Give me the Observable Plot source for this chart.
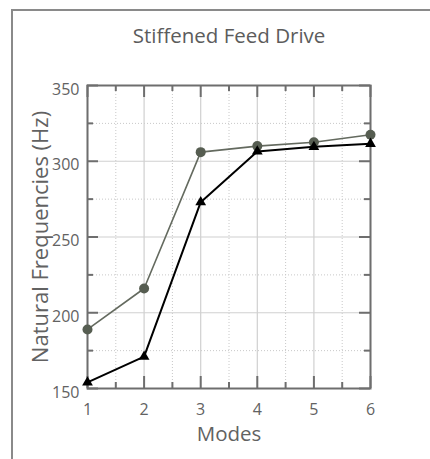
<!DOCTYPE html>
<html>
<head>
<meta charset="utf-8">
<script src="https://cdn.jsdelivr.net/npm/d3@7"></script>
<script src="https://cdn.jsdelivr.net/npm/@observablehq/plot@0.6"></script>
<style>
  html, body { margin: 0; padding: 0; background: #fff; }
  #wrap { position: relative; width: 430px; height: 459px; overflow: hidden; }
  #border { position: absolute; left: 11px; top: 9px; width: 500px; height: 500px;
            border-left: 2px solid #8a8a8a; border-top: 2px solid #8a8a8a; box-sizing: border-box; }
  #chart { position: absolute; left: 0; top: 0; }
</style>
</head>
<body>
<div id="wrap"><div id="border"></div><div id="chart"></div></div>
<script>
const modes = [1, 2, 3, 4, 5, 6];
const stiffCircle = [189, 216, 306, 310, 312.5, 317.5];
const stiffTriangle = [154, 171, 273, 306.5, 309.5, 311.5];
const xMajor = [1, 2, 3, 4, 5, 6];
const xMinor = [1.5, 2.5, 3.5, 4.5, 5.5];
const yMajor = [150, 200, 250, 300, 350];
const yMinor = [175, 225, 275, 325];
const titleText = "Stiffened Feed Drive";
const xLabel = "Modes";
const yLabel = "Natural Frequencies (Hz)";

const seriesA = modes.map((m, i) => ({mode: m, value: stiffCircle[i]}));
const seriesB = modes.map((m, i) => ({mode: m, value: stiffTriangle[i]}));

const font = "'Open Sans', 'Liberation Sans', sans-serif";
const textColor = "#626262";
const frameColor = "#6e6e6e";

// inward tick marks drawn as short rules anchored to the frame edges
const edgeTicksX = (ticks, len, anchor) =>
  Plot.tickX(ticks, {x: d => d, stroke: frameColor, strokeWidth: 2,
    insetTop: anchor === "bottom" ? 302 - len : 0,
    insetBottom: anchor === "top" ? 302 - len : 0});
const edgeTicksY = (ticks, len, anchor) =>
  Plot.tickY(ticks, {y: d => d, stroke: frameColor, strokeWidth: 2,
    insetRight: anchor === "left" ? 283 - len : 0,
    insetLeft: anchor === "right" ? 283 - len : 0});

const chart = Plot.plot({
  width: 430,
  height: 459,
  marginLeft: 87,
  marginRight: 60,
  marginTop: 85,
  marginBottom: 71,
  style: {fontFamily: font, background: "transparent", overflow: "visible"},
  x: {domain: [1, 6]},
  y: {domain: [150, 350]},
  marks: [
    Plot.gridX(xMinor, {stroke: "#c8c8c8", strokeOpacity: 1, strokeDasharray: "1,2"}),
    Plot.gridY(yMinor, {stroke: "#c8c8c8", strokeOpacity: 1, strokeDasharray: "1,2"}),
    Plot.gridX(xMajor, {stroke: "#d0d0d0", strokeOpacity: 1, strokeWidth: 1.2}),
    Plot.gridY(yMajor, {stroke: "#d0d0d0", strokeOpacity: 1, strokeWidth: 1.2}),
    edgeTicksX(xMajor, 11, "bottom"),
    edgeTicksX(xMinor, 5, "bottom"),
    edgeTicksX(xMajor, 11, "top"),
    edgeTicksX(xMinor, 5, "top"),
    edgeTicksY(yMajor, 11, "left"),
    edgeTicksY(yMinor, 6, "left"),
    edgeTicksY(yMajor, 11, "right"),
    edgeTicksY(yMinor, 6, "right"),
    // tick labels
    Plot.axisX({anchor: "bottom", ticks: xMajor, tickSize: 0, tickPadding: 15, fontSize: 16, fill: textColor, label: null, tickFormat: d => String(d)}),
    Plot.axisY({anchor: "left", ticks: yMajor, tickSize: 0, tickPadding: 8, fontSize: 16, fill: textColor, label: null, dy: 4, tickFormat: d => String(d)}),
    Plot.frame({stroke: frameColor, strokeWidth: 2}),
    // series
    Plot.line(seriesA, {x: "mode", y: "value", stroke: "#646a5f", strokeWidth: 1.6}),
    Plot.line(seriesB, {x: "mode", y: "value", stroke: "#000", strokeWidth: 2}),
    Plot.dot(seriesA, {x: "mode", y: "value", r: 5, fill: "#565d51", stroke: "none", symbol: "circle"}),
    Plot.dot(seriesB, {x: "mode", y: "value", r: 4, fill: "#000", stroke: "none", symbol: "triangle"}),
    // title and axis labels
    Plot.text([titleText], {frameAnchor: "top", dy: -57, fontSize: 20.5, fill: "#5c5c5c", fontFamily: font}),
    Plot.text([xLabel], {frameAnchor: "bottom", dy: 52, fontSize: 20.5, fill: textColor, fontFamily: font}),
    Plot.text([yLabel], {frameAnchor: "left", textAnchor: "middle", dx: -47, rotate: -90, fontSize: 22, fill: textColor, fontFamily: font})
  ]
});
document.getElementById("chart").appendChild(chart);
</script>
</body>
</html>
